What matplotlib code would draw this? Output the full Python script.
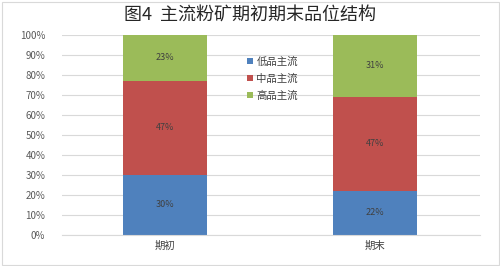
import matplotlib.pyplot as plt

plt.rcParams['font.family'] = ['Noto Sans CJK SC', 'DejaVu Sans']

periods = ["期初", "期末"]
series_names = ["低品主流", "中品主流", "高品主流"]
low = [30, 22]
mid = [47, 47]
high = [23, 31]
colors = ["#4F81BD", "#C0504D", "#9BBB59"]

fig = plt.figure(figsize=(5, 2.66), dpi=100)
ax = fig.add_axes([0.124, 0.117, 0.836, 0.752])

x = range(len(periods))
bottom = [0, 0]
for name, vals, c in zip(series_names, [low, mid, high], colors):
    bars = ax.bar(x, vals, 0.4, bottom=bottom, color=c, label=name, zorder=2)
    for b, v, bt in zip(bars, vals, bottom):
        ax.text(b.get_x() + b.get_width() / 2, bt + v / 2, f"{v}%",
                ha="center", va="center", fontsize=6.5, color="#404040", zorder=3)
    bottom = [a + v for a, v in zip(bottom, vals)]

ax.set_xlim(-0.49, 1.5)
ax.set_ylim(0, 100)
ax.set_yticks(range(0, 101, 10))
ax.set_yticklabels([f"{t}%" for t in range(0, 101, 10)], fontsize=7, color="#595959")
ax.set_xticks(list(x))
ax.set_xticklabels(periods, fontsize=7.5, color="#404040")
ax.tick_params(length=0, pad=12)
ax.tick_params(axis="x", pad=4)
ax.yaxis.grid(True, color="#D9D9D9", linewidth=0.8, zorder=0)
for s in ["top", "right", "left"]:
    ax.spines[s].set_visible(False)
ax.spines["bottom"].set_color("#D9D9D9")

fig.text(0.5, 0.945, "图4  主流粉矿期初期末品位结构", ha="center", va="center",
         fontsize=13, fontweight="medium", color="#262626")

ax.legend(loc="upper left", bbox_to_anchor=(0.42, 0.94), frameon=False,
          fontsize=7.5, handlelength=0.6, handleheight=0.6, handletextpad=0.3,
          labelspacing=0.65, labelcolor="#404040")

fig.patches.append(plt.Rectangle((0.003, 0.004), 0.994, 0.99, transform=fig.transFigure,
                                 fill=False, edgecolor="#D9D9D9", linewidth=0.8))

fig.savefig("out.png", dpi=100)
